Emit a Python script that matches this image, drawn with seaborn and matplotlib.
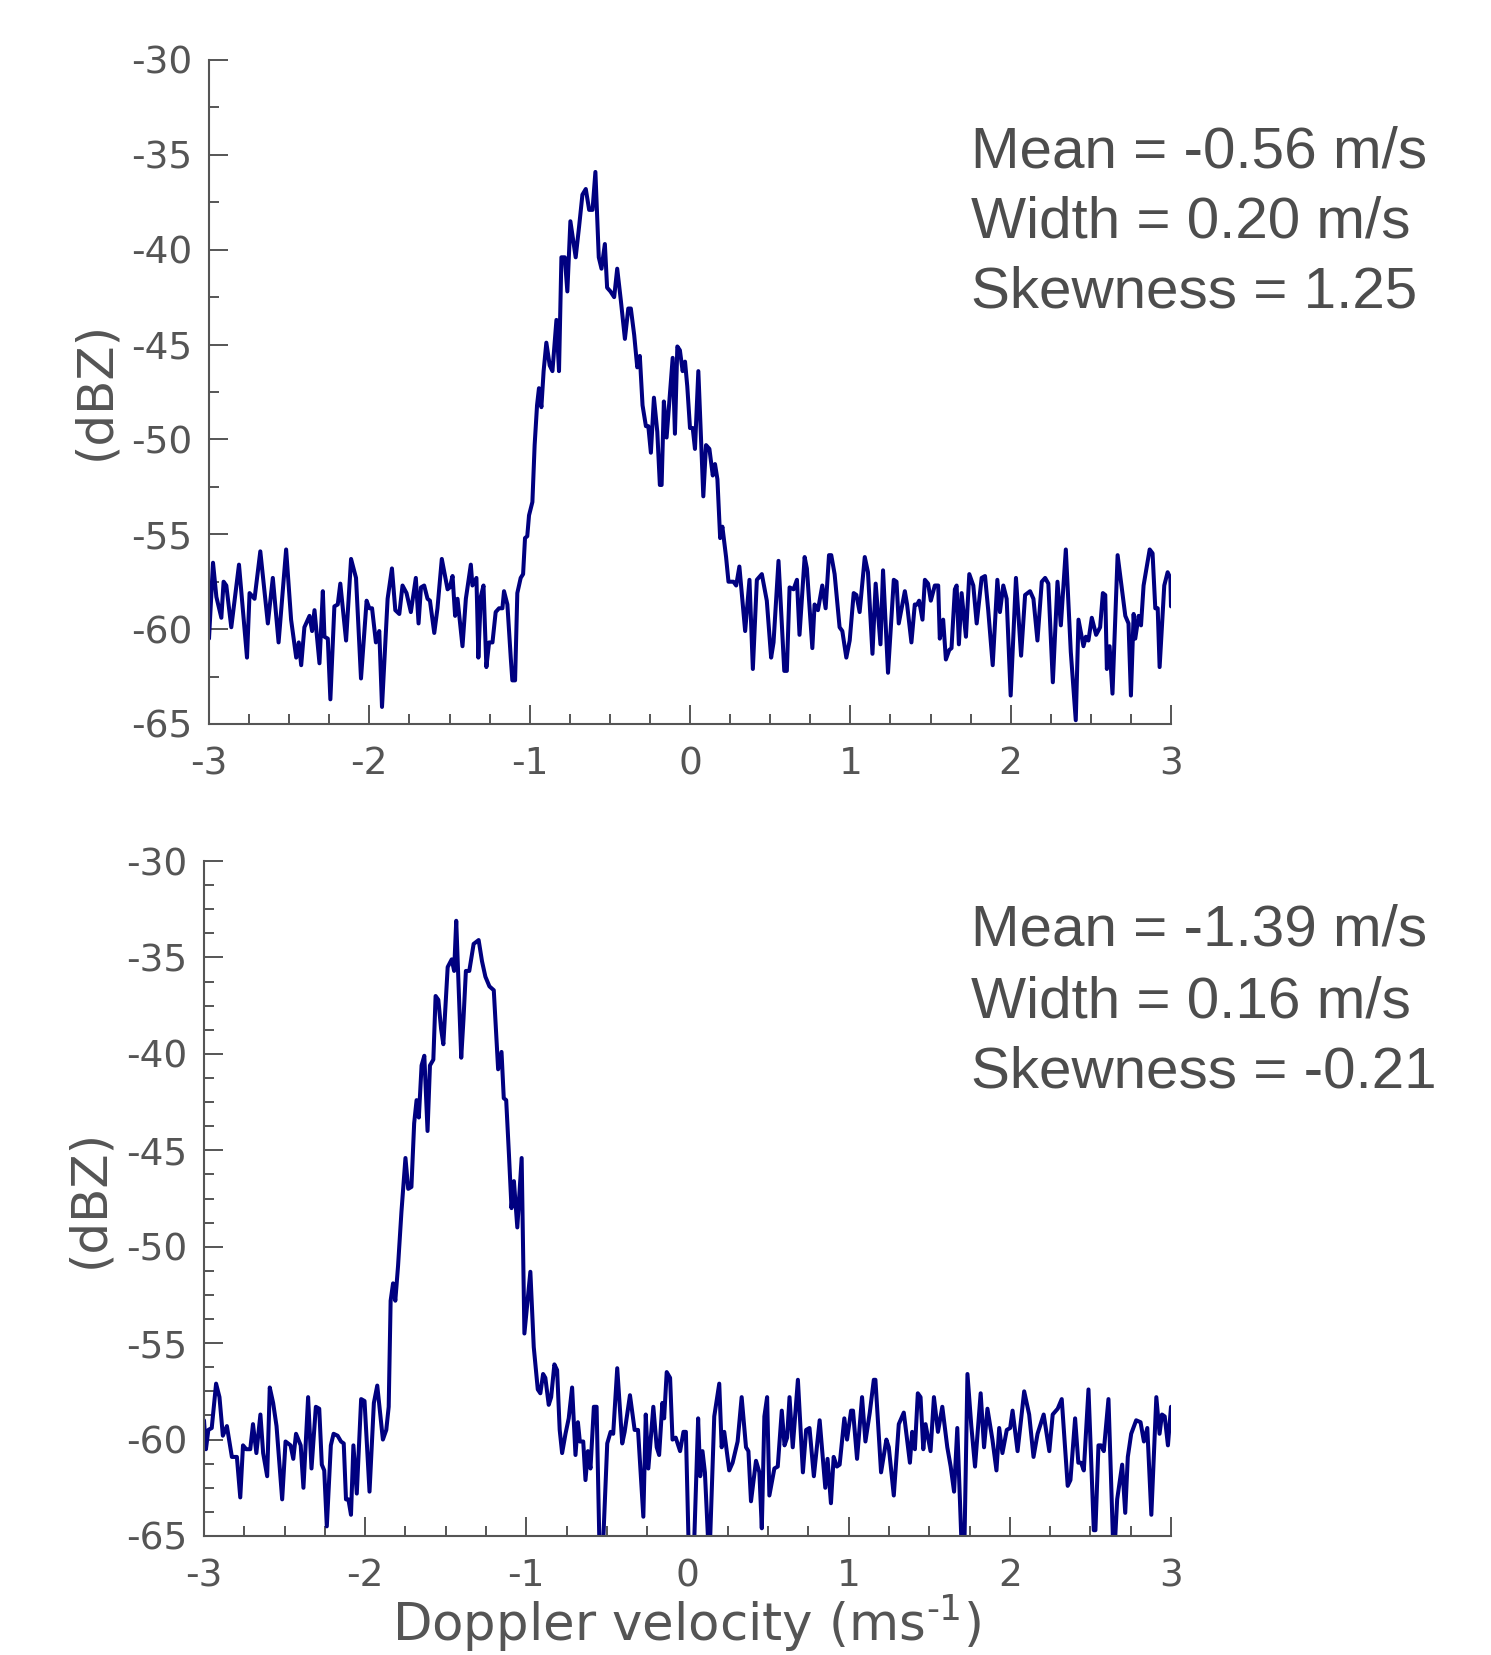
import matplotlib
matplotlib.use("Agg")
import matplotlib.pyplot as plt
import seaborn as sns
from matplotlib.ticker import MultipleLocator
from matplotlib.patches import Rectangle

sns.set_style("ticks")
plt.rcParams["font.family"] = ["DejaVu Sans"]
plt.rcParams["axes.unicode_minus"] = False

# ---- data (velocity in m/s, reflectivity in dBZ) ----
top_v = [
    -3.0, -2.975, -2.954, -2.923, -2.909, -2.892, -2.861, -2.813, -2.763, -2.747,
    -2.716, -2.680, -2.633, -2.602, -2.566, -2.519, -2.488, -2.456, -2.440, -2.425,
    -2.405, -2.373, -2.357, -2.342, -2.311, -2.290, -2.280, -2.259, -2.243, -2.218,
    -2.197, -2.181, -2.145, -2.114, -2.083, -2.052, -2.017, -2.000, -1.983, -1.959,
    -1.938, -1.921, -1.886, -1.859, -1.838, -1.813, -1.793, -1.768, -1.741, -1.710,
    -1.693, -1.678, -1.658, -1.637, -1.622, -1.595, -1.575, -1.548, -1.512, -1.498,
    -1.481, -1.465, -1.450, -1.419, -1.398, -1.367, -1.357, -1.332, -1.320, -1.305,
    -1.288, -1.270, -1.253, -1.232, -1.212, -1.191, -1.170, -1.160, -1.139, -1.118,
    -1.108, -1.091, -1.077, -1.056, -1.041, -1.029, -1.015, -1.004,
    -0.983, -0.969, -0.954, -0.942, -0.927, -0.913, -0.896, -0.875, -0.858, -0.844,
    -0.833, -0.817, -0.802, -0.781, -0.765, -0.746, -0.713, -0.692, -0.671, -0.650,
    -0.629, -0.608, -0.590, -0.569, -0.552, -0.531, -0.517, -0.496, -0.473, -0.454,
    -0.431, -0.406, -0.385, -0.369, -0.348, -0.329, -0.313, -0.296, -0.275, -0.260,
    -0.244, -0.225, -0.204, -0.188, -0.177, -0.163, -0.146, -0.129, -0.108, -0.094,
    -0.079, -0.063, -0.046, -0.031, -0.017, 0.0, 0.017, 0.031, 0.052, 0.083,
    0.100, 0.121, 0.142, 0.156, 0.171, 0.188, 0.202, 0.225, 0.240, 0.271,
    0.288, 0.308, 0.344, 0.371, 0.392, 0.417, 0.448, 0.479, 0.506, 0.521,
    0.552, 0.588, 0.604, 0.621, 0.646, 0.667,
    0.683, 0.715, 0.729, 0.763, 0.777, 0.798, 0.825, 0.846, 0.867, 0.881,
    0.902, 0.933, 0.950, 0.975, 0.996, 1.021, 1.038, 1.058, 1.090, 1.110,
    1.138, 1.158, 1.188, 1.204, 1.235, 1.271, 1.288, 1.302, 1.340, 1.354,
    1.381, 1.402, 1.417, 1.429, 1.450, 1.465, 1.485, 1.502, 1.527, 1.548,
    1.558, 1.579, 1.596, 1.617, 1.631, 1.652, 1.663, 1.677, 1.694, 1.721,
    1.742, 1.767, 1.788, 1.819, 1.840, 1.860, 1.888, 1.917, 1.933, 1.954,
    1.975, 2.000, 2.033, 2.065, 2.090, 2.121, 2.142, 2.167, 2.194, 2.215,
    2.235, 2.263, 2.292, 2.313, 2.344, 2.375, 2.406, 2.423, 2.454, 2.469,
    2.485, 2.506, 2.533, 2.558, 2.575, 2.590, 2.600, 2.617, 2.635, 2.667,
    2.715, 2.735, 2.750, 2.767, 2.777, 2.798, 2.813, 2.829, 2.867, 2.885,
    2.902, 2.917, 2.929, 2.958, 2.979, 2.996, 3.0,
]
top_db = [
    -60.5, -56.5, -58.3, -59.4, -57.5, -57.7, -59.9, -56.6, -61.5, -58.1,
    -58.4, -55.9, -59.7, -57.3, -60.7, -55.8, -59.5, -61.5, -60.7, -61.9,
    -59.9, -59.3, -60.1, -59.0, -61.8, -58.0, -60.4, -60.5, -63.7, -58.8,
    -58.7, -57.6, -60.6, -56.3, -57.3, -62.6, -58.5, -58.9, -58.9, -60.7,
    -60.1, -64.1, -58.4, -56.8, -59.0, -59.2, -57.7, -58.1, -59.1, -57.3,
    -59.7, -57.8, -57.7, -58.4, -58.5, -60.2, -58.9, -56.3, -57.9, -57.8,
    -57.2, -59.3, -58.4, -60.9, -58.4, -56.6, -57.7, -57.3, -61.5, -58.3,
    -57.7, -62.0, -60.7, -60.7, -59.1, -58.9, -58.9, -58.0, -58.7, -61.5,
    -62.7, -62.7, -58.1, -57.3, -57.1, -55.2, -55.1, -54.0,
    -53.3, -50.3, -48.2, -47.3, -48.3, -46.4, -44.9, -46.1, -46.4, -44.9,
    -43.7, -46.4, -40.4, -40.4, -42.2, -38.5, -40.4, -38.8, -37.1, -36.8,
    -37.9, -37.9, -35.9, -40.4, -41.0, -39.7, -42.0, -42.2, -42.5, -41.0,
    -42.7, -44.7, -43.1, -43.1, -44.5, -46.2, -45.6, -48.2, -49.3, -49.3,
    -50.7, -47.8, -49.6, -52.4, -52.4, -48.0, -49.9, -48.0, -45.7, -49.7,
    -45.1, -45.3, -46.4, -45.9, -47.2, -49.4, -49.4, -50.5, -46.4, -53.0,
    -50.3, -50.5, -51.9, -51.3, -52.1, -55.2, -54.6, -56.2, -57.5, -57.5,
    -57.7, -56.7, -60.1, -57.4, -62.1, -57.4, -57.1, -58.5, -61.5, -60.7,
    -56.4, -62.2, -62.2, -57.8, -57.9, -57.4,
    -60.3, -56.2, -56.8, -61.0, -58.7, -59.0, -57.7, -58.9, -56.1, -56.1,
    -57.1, -59.9, -60.1, -61.5, -60.6, -58.1, -58.2, -59.1, -56.2, -57.0,
    -61.3, -57.6, -60.8, -56.9, -62.3, -57.4, -57.5, -59.7, -58.0, -58.7,
    -60.7, -58.7, -58.7, -58.5, -59.5, -57.4, -57.6, -58.5, -57.7, -57.7,
    -60.5, -59.5, -61.6, -61.1, -61.0, -57.9, -57.7, -60.8, -58.1, -60.4,
    -57.1, -57.7, -59.7, -57.3, -57.2, -59.0, -61.9, -57.4, -59.1, -57.7,
    -58.4, -63.5, -57.3, -61.4, -58.2, -58.0, -58.4, -60.6, -57.5, -57.3,
    -57.6, -62.8, -57.5, -59.8, -55.8, -61.2, -64.8, -59.5, -60.9, -60.4,
    -60.6, -59.4, -60.3, -59.9, -58.1, -58.2, -62.1, -60.9, -63.4, -56.1,
    -59.3, -59.7, -63.5, -59.2, -60.5, -59.3, -59.8, -57.7, -55.8, -56.0,
    -58.9, -58.9, -62.0, -57.7, -57.0, -57.3, -58.8,
]

bot_v = [
    -3.0, -2.988, -2.973, -2.952, -2.925, -2.904, -2.883, -2.858, -2.827, -2.796,
    -2.775, -2.758, -2.738, -2.713, -2.696, -2.675, -2.650, -2.633, -2.608, -2.592,
    -2.571, -2.550, -2.515, -2.494, -2.463, -2.446, -2.429, -2.400, -2.383, -2.354,
    -2.333, -2.306, -2.285, -2.269, -2.254, -2.238, -2.213, -2.196, -2.171, -2.150,
    -2.133, -2.119, -2.104, -2.088, -2.073, -2.052, -2.025, -2.004, -1.973, -1.946,
    -1.925, -1.890, -1.869, -1.854, -1.842, -1.827, -1.813, -1.796, -1.775, -1.750,
    -1.733, -1.713, -1.696, -1.681, -1.667, -1.650, -1.633, -1.613, -1.598, -1.577,
    -1.563, -1.546, -1.529, -1.515, -1.488, -1.463, -1.448, -1.435, -1.404, -1.390,
    -1.375, -1.354, -1.327, -1.296, -1.275, -1.254, -1.229, -1.202, -1.175, -1.154,
    -1.140, -1.125, -1.108, -1.092, -1.077, -1.056, -1.029,
    -1.012, -0.975, -0.954, -0.929, -0.913, -0.896, -0.882, -0.861, -0.846, -0.826,
    -0.809, -0.793, -0.778, -0.757, -0.737, -0.716, -0.695, -0.680, -0.668, -0.647,
    -0.633, -0.618, -0.602, -0.581, -0.564, -0.544, -0.529, -0.498, -0.477, -0.461,
    -0.436, -0.405, -0.390, -0.357, -0.328, -0.307, -0.274, -0.259, -0.243, -0.212,
    -0.191, -0.176, -0.156, -0.145, -0.129, -0.108, -0.093, -0.073, -0.046, -0.025,
    -0.010, 0.010, 0.037, 0.066, 0.079, 0.093, 0.108, 0.135, 0.166, 0.197,
    0.212, 0.228, 0.259, 0.280, 0.311, 0.336, 0.363, 0.378, 0.394, 0.425,
    0.446, 0.461, 0.477, 0.494, 0.508, 0.539, 0.560, 0.585, 0.602, 0.618,
    0.633, 0.653, 0.685, 0.716, 0.736, 0.757, 0.784, 0.820,
    0.855, 0.869, 0.890, 0.907, 0.927, 0.944, 0.973, 0.990, 1.015, 1.027,
    1.052, 1.083, 1.104, 1.131, 1.156, 1.166, 1.201, 1.234, 1.249, 1.280,
    1.311, 1.342, 1.380, 1.394, 1.411, 1.429, 1.446, 1.463, 1.477, 1.508,
    1.529, 1.554, 1.581, 1.612, 1.633, 1.654, 1.674, 1.705, 1.716, 1.737,
    1.761, 1.784, 1.819, 1.840, 1.861, 1.892, 1.917, 1.934, 1.954, 1.981,
    2.002, 2.017, 2.048, 2.089, 2.120, 2.147, 2.172, 2.210, 2.245, 2.266,
    2.297, 2.322, 2.359, 2.376, 2.405, 2.425, 2.442, 2.459, 2.488, 2.521,
    2.531, 2.550, 2.566, 2.583, 2.612, 2.645, 2.666, 2.697, 2.716, 2.732,
    2.753, 2.784, 2.811, 2.832, 2.853, 2.878, 2.909, 2.929, 2.944, 2.961,
    2.981, 3.0,
]
bot_db = [
    -59.0, -60.5, -59.5, -59.4, -57.1, -57.8, -59.8, -59.3, -60.9, -60.9,
    -63.0, -60.3, -60.5, -60.5, -59.2, -60.7, -58.7, -60.7, -61.9, -57.3,
    -58.1, -59.3, -63.1, -60.1, -60.3, -61.0, -59.7, -60.3, -62.5, -57.8,
    -61.5, -58.3, -58.4, -61.3, -61.6, -64.5, -60.3, -59.7, -59.8, -60.1,
    -60.2, -63.1, -63.1, -63.9, -60.3, -62.8, -57.9, -58.0, -62.7, -58.1,
    -57.2, -60.0, -59.5, -58.3, -52.8, -51.9, -52.8, -51.0, -48.2, -45.4,
    -47.0, -46.9, -43.6, -42.4, -43.3, -40.6, -40.1, -44.0, -40.6, -40.3,
    -37.0, -37.2, -38.7, -39.5, -35.5, -35.1, -35.7, -33.1, -40.2, -38.2,
    -35.7, -35.7, -34.3, -34.1, -35.2, -36.0, -36.5, -36.7, -40.8, -39.9,
    -42.3, -42.4, -45.2, -48.0, -46.6, -49.0, -45.4,
    -54.5, -51.3, -55.2, -57.4, -57.6, -56.6, -56.8, -58.2, -57.8, -56.1,
    -56.4, -59.5, -60.7, -59.7, -58.9, -57.3, -60.8, -59.1, -60.1, -60.1,
    -62.1, -60.6, -61.5, -58.3, -58.3, -66.5, -66.5, -60.2, -59.6, -59.7,
    -56.3, -60.2, -59.6, -57.7, -59.5, -59.5, -64.0, -58.7, -61.5, -58.3,
    -60.4, -60.8, -58.1, -58.9, -56.5, -56.8, -60.0, -59.9, -60.6, -59.6,
    -59.6, -66.5, -66.5, -58.9, -61.9, -60.6, -61.7, -66.5, -58.8, -57.1,
    -60.4, -59.6, -61.6, -61.2, -60.1, -57.8, -60.4, -60.6, -63.2, -61.1,
    -61.7, -64.6, -58.8, -57.8, -62.9, -61.5, -61.4, -58.5, -60.3, -59.9,
    -57.8, -60.4, -56.9, -61.7, -59.5, -59.4, -61.9, -59.0,
    -62.5, -61.0, -63.3, -60.9, -61.4, -61.3, -58.9, -60.0, -58.5, -58.5,
    -61.0, -57.8, -60.1, -58.6, -56.9, -56.9, -61.7, -60.0, -60.4, -62.9,
    -59.2, -58.6, -61.2, -59.6, -60.5, -57.6, -57.8, -60.5, -59.2, -60.6,
    -57.8, -59.6, -58.3, -60.4, -61.4, -62.7, -59.4, -66.5, -66.5, -56.6,
    -59.3, -61.4, -57.6, -60.4, -58.4, -60.0, -61.6, -59.4, -60.7, -59.5,
    -59.4, -58.5, -60.6, -57.5, -58.7, -60.9, -59.7, -58.7, -60.6, -58.7,
    -58.4, -57.9, -62.4, -62.1, -58.9, -61.2, -61.2, -61.6, -57.4, -64.7,
    -64.7, -60.3, -60.3, -60.6, -57.9, -66.5, -63.1, -61.3, -63.8, -60.9,
    -59.7, -59.0, -59.1, -60.1, -59.4, -63.9, -57.8, -59.7, -58.7, -58.8,
    -60.3, -58.3,
]

top_stats = ["Mean = -0.56 m/s", "Width = 0.20 m/s", "Skewness = 1.25"]
bot_stats = ["Mean = -1.39 m/s", "Width = 0.16 m/s", "Skewness = -0.21"]
y_label = "(dBZ)"
x_label = r"Doppler velocity (ms$^{\text{-1}}$)"

GREY = "#555555"
TEXT = "#4d4d4d"
LINE = "#000080"

W, H = 1491, 1655
fig = plt.figure(figsize=(W / 100, H / 100), dpi=100)


def box(l, t, r, b):
    return [l / W, 1 - b / H, (r - l) / W, (b - t) / H]


ax_top = fig.add_axes(box(209, 60, 1171, 724))
ax_bot = fig.add_axes(box(204, 861, 1171, 1536), zorder=2)


def style(ax, yminor):
    ax.set_xlim(-3, 3)
    ax.set_ylim(-65, -30)
    ax.xaxis.set_major_locator(MultipleLocator(1))
    ax.xaxis.set_minor_locator(MultipleLocator(0.25))
    ax.yaxis.set_major_locator(MultipleLocator(5))
    ax.yaxis.set_minor_locator(MultipleLocator(yminor))
    for s in ["top", "right"]:
        ax.spines[s].set_visible(False)
    for s in ["left", "bottom"]:
        ax.spines[s].set_color(GREY)
        ax.spines[s].set_linewidth(1.5)
    ax.tick_params(which="both", direction="in", color=GREY, width=1.4)
    ax.tick_params(which="major", length=14)
    ax.tick_params(which="minor", length=7)
    ax.tick_params(axis="x", which="major", pad=16, labelsize=27, labelcolor=GREY)
    ax.tick_params(axis="y", which="major", pad=12, labelsize=27, labelcolor=GREY)
    ax.set_xlabel("")
    ax.set_ylabel("")
    ax.set_facecolor("white")


sns.lineplot(x=top_v, y=top_db, ax=ax_top, color=LINE, linewidth=2.9,
             sort=False, estimator=None)
sns.lineplot(x=bot_v, y=bot_db, ax=ax_bot, color=LINE, linewidth=2.9,
             sort=False, estimator=None)
style(ax_top, 2.5)
style(ax_bot, 1.25)

# stats text
for base, s in zip([167, 237, 307], top_stats):
    fig.text(971 / W, 1 - base / H, s, fontsize=42, family="Liberation Sans",
             color=TEXT, ha="left", va="baseline")
for base, s in zip([946, 1017, 1087], bot_stats):
    fig.text(971 / W, 1 - base / H, s, fontsize=42, family="Liberation Sans",
             color=TEXT, ha="left", va="baseline")

# y labels
fig.text(95 / W, 1 - 390 / H, y_label, rotation=90, ha="center", va="center",
         fontsize=36, color=GREY)
fig.text(89 / W, 1 - 1198 / H, y_label, rotation=90, ha="center", va="center",
         fontsize=36, color=GREY)

# x labels: the top one is mostly hidden under the lower panel
fig.text(690 / W, 1 - 843 / H, x_label, ha="center", va="baseline",
         fontsize=37, color=GREY, zorder=0.5)
fig.add_artist(Rectangle((0, 0), 1, 1 - 796 / H, transform=fig.transFigure,
                         facecolor="white", edgecolor="none", zorder=1))
fig.text(686 / W, 1 - 1641 / H, x_label, ha="center", va="baseline",
         fontsize=37, color=GREY, zorder=3)

fig.savefig("out.png", dpi=100, facecolor="white")
